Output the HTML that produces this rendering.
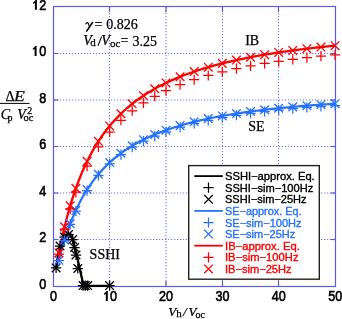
<!DOCTYPE html>
<html><head><meta charset="utf-8"><style>
html,body{margin:0;padding:0;background:#fff;}
body{width:342px;height:319px;overflow:hidden;position:relative;}
svg{position:absolute;left:0;top:0;will-change:transform;}
.tk{font-family:"Liberation Sans",sans-serif;font-size:14px;fill:#000;stroke:#000;stroke-width:0.6px;}
.lg{font-family:"Liberation Sans",sans-serif;font-size:10.6px;}
.sf{font-family:"Liberation Serif",serif;font-size:14px;fill:#000;stroke:#000;stroke-width:0.25px;}
.it{font-style:italic;}
</style></head><body>
<svg width="342" height="319" viewBox="0 0 342 319">
<line x1="109.50" y1="6.50" x2="109.50" y2="286.00" stroke="#7878f0" stroke-width="1.1" stroke-dasharray="1.3 1.7" stroke-dashoffset="-0.4"/>
<line x1="166.00" y1="6.50" x2="166.00" y2="286.00" stroke="#7878f0" stroke-width="1.1" stroke-dasharray="1.3 1.7" stroke-dashoffset="-0.4"/>
<line x1="222.50" y1="6.50" x2="222.50" y2="286.00" stroke="#7878f0" stroke-width="1.1" stroke-dasharray="1.3 1.7" stroke-dashoffset="-0.4"/>
<line x1="278.50" y1="6.50" x2="278.50" y2="286.00" stroke="#7878f0" stroke-width="1.1" stroke-dasharray="1.3 1.7" stroke-dashoffset="-0.4"/>
<line x1="53.50" y1="239.50" x2="335.50" y2="239.50" stroke="#7878f0" stroke-width="1.1" stroke-dasharray="1.3 1.7" stroke-dashoffset="-0.4"/>
<line x1="53.50" y1="193.00" x2="335.50" y2="193.00" stroke="#7878f0" stroke-width="1.1" stroke-dasharray="1.3 1.7" stroke-dashoffset="-0.4"/>
<line x1="53.50" y1="146.50" x2="335.50" y2="146.50" stroke="#7878f0" stroke-width="1.1" stroke-dasharray="1.3 1.7" stroke-dashoffset="-0.4"/>
<line x1="53.50" y1="100.00" x2="335.50" y2="100.00" stroke="#7878f0" stroke-width="1.1" stroke-dasharray="1.3 1.7" stroke-dashoffset="-0.4"/>
<line x1="53.50" y1="53.50" x2="335.50" y2="53.50" stroke="#7878f0" stroke-width="1.1" stroke-dasharray="1.3 1.7" stroke-dashoffset="-0.4"/>
<line x1="109.50" y1="286.50" x2="109.50" y2="281.00" stroke="#5a5ae6" stroke-width="1.2"/>
<line x1="109.50" y1="6.50" x2="109.50" y2="12.00" stroke="#5a5ae6" stroke-width="1.2"/>
<line x1="166.00" y1="286.50" x2="166.00" y2="281.00" stroke="#5a5ae6" stroke-width="1.2"/>
<line x1="166.00" y1="6.50" x2="166.00" y2="12.00" stroke="#5a5ae6" stroke-width="1.2"/>
<line x1="222.50" y1="286.50" x2="222.50" y2="281.00" stroke="#5a5ae6" stroke-width="1.2"/>
<line x1="222.50" y1="6.50" x2="222.50" y2="12.00" stroke="#5a5ae6" stroke-width="1.2"/>
<line x1="278.50" y1="286.50" x2="278.50" y2="281.00" stroke="#5a5ae6" stroke-width="1.2"/>
<line x1="278.50" y1="6.50" x2="278.50" y2="12.00" stroke="#5a5ae6" stroke-width="1.2"/>
<line x1="53.50" y1="239.50" x2="58.30" y2="239.50" stroke="#5a5ae6" stroke-width="1.2"/>
<line x1="335.50" y1="239.50" x2="330.70" y2="239.50" stroke="#5a5ae6" stroke-width="1.2"/>
<line x1="53.50" y1="193.00" x2="58.30" y2="193.00" stroke="#5a5ae6" stroke-width="1.2"/>
<line x1="335.50" y1="193.00" x2="330.70" y2="193.00" stroke="#5a5ae6" stroke-width="1.2"/>
<line x1="53.50" y1="146.50" x2="58.30" y2="146.50" stroke="#5a5ae6" stroke-width="1.2"/>
<line x1="335.50" y1="146.50" x2="330.70" y2="146.50" stroke="#5a5ae6" stroke-width="1.2"/>
<line x1="53.50" y1="100.00" x2="58.30" y2="100.00" stroke="#5a5ae6" stroke-width="1.2"/>
<line x1="335.50" y1="100.00" x2="330.70" y2="100.00" stroke="#5a5ae6" stroke-width="1.2"/>
<line x1="53.50" y1="53.50" x2="58.30" y2="53.50" stroke="#5a5ae6" stroke-width="1.2"/>
<line x1="335.50" y1="53.50" x2="330.70" y2="53.50" stroke="#5a5ae6" stroke-width="1.2"/>
<rect x="53.50" y="6.50" width="282.00" height="280.00" fill="none" stroke="#5a5ae6" stroke-width="1.2"/>
<polyline points="56.30,267.60 57.20,260.50 58.30,254.00 59.60,248.50 61.00,244.20 62.60,240.60 64.30,237.80 66.10,235.70 67.90,234.30 69.60,233.80 71.00,234.60 72.00,237.00 73.00,240.30 74.50,246.30 76.00,252.50 78.00,261.00 80.00,269.80 82.00,278.80 83.20,285.80 109.60,285.80" fill="none" stroke="#000000" stroke-width="2.3" stroke-linejoin="round"/>
<polyline points="59.50,258.06 60.88,252.80 62.25,247.84 63.63,243.14 65.01,238.68 66.39,234.45 67.77,230.43 69.14,226.60 70.52,222.95 71.90,219.47 73.28,216.15 74.65,212.98 76.03,209.94 77.41,207.03 78.79,204.24 80.16,201.56 81.54,198.99 82.92,196.52 84.30,194.15 85.68,191.86 87.05,189.66 88.43,187.54 89.81,185.50 91.19,183.53 92.56,181.62 93.94,179.79 95.32,178.01 96.70,176.29 98.08,174.63 99.45,173.02 100.83,171.46 102.21,169.95 103.59,168.48 104.96,167.06 106.34,165.68 107.72,164.35 109.10,163.05 110.48,161.79 111.85,160.56 113.23,159.37 114.61,158.21 115.99,157.08 117.36,155.98 118.74,154.92 120.12,153.88 121.50,152.86 122.88,151.88 124.25,150.91 125.63,149.98 127.01,149.06 128.39,148.17 129.76,147.30 131.14,146.45 132.52,145.62 133.90,144.81 135.28,144.01 136.65,143.24 138.03,142.48 139.41,141.75 140.79,141.02 142.16,140.32 143.54,139.63 144.92,138.95 146.30,138.29 147.67,137.64 149.05,137.01 150.43,136.39 151.81,135.78 153.19,135.18 154.56,134.60 155.94,134.03 157.32,133.47 158.70,132.92 160.07,132.38 161.45,131.86 162.83,131.34 164.21,130.83 165.59,130.34 166.96,129.85 168.34,129.37 169.72,128.90 171.10,128.44 172.47,127.99 173.85,127.54 175.23,127.11 176.61,126.68 177.99,126.26 179.36,125.84 180.74,125.44 182.12,125.04 183.50,124.65 184.87,124.26 186.25,123.88 187.63,123.51 189.01,123.14 190.39,122.78 191.76,122.43 193.14,122.08 194.52,121.74 195.90,121.41 197.27,121.07 198.65,120.75 200.03,120.43 201.41,120.11 202.79,119.80 204.16,119.50 205.54,119.20 206.92,118.90 208.30,118.61 209.67,118.33 211.05,118.04 212.43,117.77 213.81,117.49 215.19,117.22 216.56,116.96 217.94,116.70 219.32,116.44 220.70,116.19 222.07,115.94 223.45,115.69 224.83,115.45 226.21,115.21 227.58,114.98 228.96,114.75 230.34,114.52 231.72,114.29 233.10,114.07 234.47,113.85 235.85,113.64 237.23,113.42 238.61,113.21 239.98,113.01 241.36,112.80 242.74,112.60 244.12,112.40 245.50,112.21 246.87,112.02 248.25,111.83 249.63,111.64 251.01,111.45 252.38,111.27 253.76,111.09 255.14,110.91 256.52,110.74 257.90,110.57 259.27,110.40 260.65,110.23 262.03,110.06 263.41,109.90 264.78,109.74 266.16,109.58 267.54,109.42 268.92,109.27 270.30,109.11 271.67,108.96 273.05,108.81 274.43,108.66 275.81,108.52 277.18,108.38 278.56,108.23 279.94,108.09 281.32,107.96 282.70,107.82 284.07,107.68 285.45,107.55 286.83,107.42 288.21,107.29 289.58,107.16 290.96,107.04 292.34,106.91 293.72,106.79 295.10,106.67 296.47,106.55 297.85,106.43 299.23,106.31 300.61,106.19 301.98,106.08 303.36,105.97 304.74,105.85 306.12,105.74 307.49,105.64 308.87,105.53 310.25,105.42 311.63,105.32 313.01,105.21 314.38,105.11 315.76,105.01 317.14,104.91 318.52,104.81 319.89,104.71 321.27,104.62 322.65,104.52 324.03,104.43 325.41,104.33 326.78,104.24 328.16,104.15 329.54,104.06 330.92,103.97 332.29,103.89 333.67,103.80 335.05,103.71" fill="none" stroke="#2672ff" stroke-width="2.2" stroke-linejoin="round"/>
<polyline points="58.93,252.95 60.32,246.00 61.70,239.44 63.08,233.23 64.46,227.34 65.84,221.74 67.22,216.43 68.60,211.37 69.98,206.54 71.36,201.94 72.74,197.55 74.12,193.35 75.50,189.33 76.88,185.48 78.26,181.79 79.64,178.24 81.02,174.84 82.40,171.57 83.79,168.43 85.17,165.40 86.55,162.49 87.93,159.68 89.31,156.97 90.69,154.36 92.07,151.83 93.45,149.39 94.83,147.04 96.21,144.75 97.59,142.55 98.97,140.41 100.35,138.34 101.73,136.33 103.11,134.39 104.49,132.50 105.87,130.67 107.26,128.89 108.64,127.16 110.02,125.48 111.40,123.85 112.78,122.26 114.16,120.72 115.54,119.21 116.92,117.75 118.30,116.33 119.68,114.94 121.06,113.59 122.44,112.27 123.82,110.98 125.20,109.73 126.58,108.50 127.96,107.31 129.34,106.14 130.72,105.01 132.11,103.89 133.49,102.81 134.87,101.75 136.25,100.71 137.63,99.69 139.01,98.70 140.39,97.73 141.77,96.78 143.15,95.85 144.53,94.94 145.91,94.05 147.29,93.18 148.67,92.33 150.05,91.49 151.43,90.67 152.81,89.87 154.19,89.08 155.58,88.31 156.96,87.55 158.34,86.81 159.72,86.08 161.10,85.37 162.48,84.67 163.86,83.98 165.24,83.31 166.62,82.64 168.00,81.99 169.38,81.35 170.76,80.73 172.14,80.11 173.52,79.51 174.90,78.91 176.28,78.33 177.66,77.75 179.05,77.19 180.43,76.63 181.81,76.09 183.19,75.55 184.57,75.02 185.95,74.51 187.33,74.00 188.71,73.49 190.09,73.00 191.47,72.51 192.85,72.04 194.23,71.56 195.61,71.10 196.99,70.65 198.37,70.20 199.75,69.75 201.13,69.32 202.51,68.89 203.90,68.47 205.28,68.05 206.66,67.64 208.04,67.24 209.42,66.84 210.80,66.45 212.18,66.06 213.56,65.68 214.94,65.31 216.32,64.94 217.70,64.57 219.08,64.21 220.46,63.86 221.84,63.51 223.22,63.16 224.60,62.82 225.98,62.49 227.37,62.16 228.75,61.83 230.13,61.51 231.51,61.19 232.89,60.88 234.27,60.57 235.65,60.27 237.03,59.96 238.41,59.67 239.79,59.37 241.17,59.09 242.55,58.80 243.93,58.52 245.31,58.24 246.69,57.96 248.07,57.69 249.45,57.42 250.83,57.16 252.22,56.90 253.60,56.64 254.98,56.39 256.36,56.13 257.74,55.89 259.12,55.64 260.50,55.40 261.88,55.16 263.26,54.92 264.64,54.69 266.02,54.45 267.40,54.23 268.78,54.00 270.16,53.78 271.54,53.56 272.92,53.34 274.30,53.12 275.69,52.91 277.07,52.70 278.45,52.49 279.83,52.29 281.21,52.08 282.59,51.88 283.97,51.68 285.35,51.49 286.73,51.29 288.11,51.10 289.49,50.91 290.87,50.72 292.25,50.53 293.63,50.35 295.01,50.17 296.39,49.99 297.77,49.81 299.16,49.63 300.54,49.46 301.92,49.29 303.30,49.12 304.68,48.95 306.06,48.78 307.44,48.62 308.82,48.45 310.20,48.29 311.58,48.13 312.96,47.97 314.34,47.82 315.72,47.66 317.10,47.51 318.48,47.36 319.86,47.21 321.24,47.06 322.62,46.91 324.01,46.77 325.39,46.62 326.77,46.48 328.15,46.34 329.53,46.20 330.91,46.06 332.29,45.92 333.67,45.79 335.05,45.65" fill="none" stroke="#ff0000" stroke-width="2.3" stroke-linejoin="round"/>
<path d="M51.00 267.90H61.20M56.10 262.80V273.00" stroke="#000000" stroke-width="1.25" fill="none"/>
<path d="M51.80 263.60L60.40 272.20M51.80 272.20L60.40 263.60" stroke="#000000" stroke-width="1.30" fill="none"/>
<path d="M54.90 246.00H65.10M60.00 240.90V251.10" stroke="#000000" stroke-width="1.25" fill="none"/>
<path d="M55.70 241.70L64.30 250.30M55.70 250.30L64.30 241.70" stroke="#000000" stroke-width="1.30" fill="none"/>
<path d="M59.40 237.00H69.60M64.50 231.90V242.10" stroke="#000000" stroke-width="1.25" fill="none"/>
<path d="M60.20 232.70L68.80 241.30M60.20 241.30L68.80 232.70" stroke="#000000" stroke-width="1.30" fill="none"/>
<path d="M63.40 234.50H73.60M68.50 229.40V239.60" stroke="#000000" stroke-width="1.25" fill="none"/>
<path d="M64.20 230.20L72.80 238.80M64.20 238.80L72.80 230.20" stroke="#000000" stroke-width="1.30" fill="none"/>
<path d="M67.50 239.50H77.70M72.60 234.40V244.60" stroke="#000000" stroke-width="1.25" fill="none"/>
<path d="M68.30 235.20L76.90 243.80M68.30 243.80L76.90 235.20" stroke="#000000" stroke-width="1.30" fill="none"/>
<path d="M69.40 247.50H79.60M74.50 242.40V252.60" stroke="#000000" stroke-width="1.25" fill="none"/>
<path d="M70.20 243.20L78.80 251.80M70.20 251.80L78.80 243.20" stroke="#000000" stroke-width="1.30" fill="none"/>
<path d="M70.90 255.00H81.10M76.00 249.90V260.10" stroke="#000000" stroke-width="1.25" fill="none"/>
<path d="M71.70 250.70L80.30 259.30M71.70 259.30L80.30 250.70" stroke="#000000" stroke-width="1.30" fill="none"/>
<path d="M72.70 268.50H82.90M77.80 263.40V273.60" stroke="#000000" stroke-width="1.25" fill="none"/>
<path d="M73.50 264.20L82.10 272.80M73.50 272.80L82.10 264.20" stroke="#000000" stroke-width="1.30" fill="none"/>
<path d="M77.90 285.60H88.10M83.00 280.50V290.70" stroke="#000000" stroke-width="1.25" fill="none"/>
<path d="M78.70 281.30L87.30 289.90M78.70 289.90L87.30 281.30" stroke="#000000" stroke-width="1.30" fill="none"/>
<path d="M80.20 285.60H90.40M85.30 280.50V290.70" stroke="#000000" stroke-width="1.25" fill="none"/>
<path d="M81.00 281.30L89.60 289.90M81.00 289.90L89.60 281.30" stroke="#000000" stroke-width="1.30" fill="none"/>
<path d="M82.60 285.60H92.80M87.70 280.50V290.70" stroke="#000000" stroke-width="1.25" fill="none"/>
<path d="M83.40 281.30L92.00 289.90M83.40 289.90L92.00 281.30" stroke="#000000" stroke-width="1.30" fill="none"/>
<path d="M104.50 285.60H114.70M109.60 280.50V290.70" stroke="#000000" stroke-width="1.25" fill="none"/>
<path d="M105.30 281.30L113.90 289.90M105.30 289.90L113.90 281.30" stroke="#000000" stroke-width="1.30" fill="none"/>
<path d="M53.83 260.55H64.03M58.93 255.45V265.65" stroke="#2672ff" stroke-width="1.25" fill="none"/>
<path d="M54.63 255.99L63.23 264.59M54.63 264.59L63.23 255.99" stroke="#2672ff" stroke-width="1.30" fill="none"/>
<path d="M59.47 240.54H69.67M64.57 235.44V245.64" stroke="#2672ff" stroke-width="1.25" fill="none"/>
<path d="M60.27 235.78L68.87 244.38M60.27 244.38L68.87 235.78" stroke="#2672ff" stroke-width="1.30" fill="none"/>
<path d="M65.11 224.40H75.30M70.20 219.30V229.50" stroke="#2672ff" stroke-width="1.25" fill="none"/>
<path d="M65.91 219.47L74.50 228.07M65.91 228.07L74.50 219.47" stroke="#2672ff" stroke-width="1.30" fill="none"/>
<path d="M70.74 211.11H80.94M75.84 206.01V216.21" stroke="#2672ff" stroke-width="1.25" fill="none"/>
<path d="M71.54 206.05L80.14 214.65M71.54 214.65L80.14 206.05" stroke="#2672ff" stroke-width="1.30" fill="none"/>
<path d="M82.01 190.54H92.21M87.11 185.44V195.64" stroke="#2672ff" stroke-width="1.25" fill="none"/>
<path d="M82.81 185.28L91.41 193.88M82.81 193.88L91.41 185.28" stroke="#2672ff" stroke-width="1.30" fill="none"/>
<path d="M93.28 175.38H103.48M98.38 170.28V180.48" stroke="#2672ff" stroke-width="1.25" fill="none"/>
<path d="M94.08 169.97L102.68 178.57M94.08 178.57L102.68 169.97" stroke="#2672ff" stroke-width="1.30" fill="none"/>
<path d="M104.55 163.77H114.75M109.65 158.67V168.87" stroke="#2672ff" stroke-width="1.25" fill="none"/>
<path d="M105.35 158.24L113.95 166.84M105.35 166.84L113.95 158.24" stroke="#2672ff" stroke-width="1.30" fill="none"/>
<path d="M115.82 154.61H126.02M120.92 149.51V159.71" stroke="#2672ff" stroke-width="1.25" fill="none"/>
<path d="M116.62 148.98L125.22 157.58M116.62 157.58L125.22 148.98" stroke="#2672ff" stroke-width="1.30" fill="none"/>
<path d="M127.09 147.22H137.29M132.19 142.12V152.32" stroke="#2672ff" stroke-width="1.25" fill="none"/>
<path d="M127.89 141.51L136.49 150.11M127.89 150.11L136.49 141.51" stroke="#2672ff" stroke-width="1.30" fill="none"/>
<path d="M138.36 141.13H148.56M143.46 136.03V146.23" stroke="#2672ff" stroke-width="1.25" fill="none"/>
<path d="M139.16 135.37L147.76 143.97M139.16 143.97L147.76 135.37" stroke="#2672ff" stroke-width="1.30" fill="none"/>
<path d="M149.63 136.05H159.83M154.73 130.95V141.15" stroke="#2672ff" stroke-width="1.25" fill="none"/>
<path d="M150.43 130.23L159.03 138.83M150.43 138.83L159.03 130.23" stroke="#2672ff" stroke-width="1.30" fill="none"/>
<path d="M160.90 131.75H171.10M166.00 126.65V136.85" stroke="#2672ff" stroke-width="1.25" fill="none"/>
<path d="M161.70 125.89L170.30 134.49M161.70 134.49L170.30 125.89" stroke="#2672ff" stroke-width="1.30" fill="none"/>
<path d="M174.99 127.23H185.19M180.09 122.13V132.33" stroke="#2672ff" stroke-width="1.25" fill="none"/>
<path d="M175.79 121.33L184.39 129.93M175.79 129.93L184.39 121.33" stroke="#2672ff" stroke-width="1.30" fill="none"/>
<path d="M189.08 123.47H199.28M194.18 118.37V128.57" stroke="#2672ff" stroke-width="1.25" fill="none"/>
<path d="M189.88 117.53L198.48 126.13M189.88 126.13L198.48 117.53" stroke="#2672ff" stroke-width="1.30" fill="none"/>
<path d="M203.16 120.29H213.36M208.26 115.19V125.39" stroke="#2672ff" stroke-width="1.25" fill="none"/>
<path d="M203.96 114.32L212.56 122.92M203.96 122.92L212.56 114.32" stroke="#2672ff" stroke-width="1.30" fill="none"/>
<path d="M217.25 117.59H227.45M222.35 112.49V122.69" stroke="#2672ff" stroke-width="1.25" fill="none"/>
<path d="M218.05 111.59L226.65 120.19M218.05 120.19L226.65 111.59" stroke="#2672ff" stroke-width="1.30" fill="none"/>
<path d="M231.34 115.27H241.54M236.44 110.17V120.37" stroke="#2672ff" stroke-width="1.25" fill="none"/>
<path d="M232.14 109.24L240.74 117.84M232.14 117.84L240.74 109.24" stroke="#2672ff" stroke-width="1.30" fill="none"/>
<path d="M245.42 113.26H255.62M250.52 108.16V118.36" stroke="#2672ff" stroke-width="1.25" fill="none"/>
<path d="M246.22 107.22L254.82 115.82M246.22 115.82L254.82 107.22" stroke="#2672ff" stroke-width="1.30" fill="none"/>
<path d="M259.51 111.52H269.71M264.61 106.42V116.62" stroke="#2672ff" stroke-width="1.25" fill="none"/>
<path d="M260.31 105.46L268.91 114.06M260.31 114.06L268.91 105.46" stroke="#2672ff" stroke-width="1.30" fill="none"/>
<path d="M273.60 110.00H283.80M278.70 104.90V115.10" stroke="#2672ff" stroke-width="1.25" fill="none"/>
<path d="M274.40 103.92L283.00 112.52M274.40 112.52L283.00 103.92" stroke="#2672ff" stroke-width="1.30" fill="none"/>
<path d="M287.69 108.66H297.89M292.79 103.56V113.76" stroke="#2672ff" stroke-width="1.25" fill="none"/>
<path d="M288.49 102.57L297.09 111.17M288.49 111.17L297.09 102.57" stroke="#2672ff" stroke-width="1.30" fill="none"/>
<path d="M301.77 107.49H311.98M306.88 102.39V112.59" stroke="#2672ff" stroke-width="1.25" fill="none"/>
<path d="M302.57 101.38L311.18 109.98M302.57 109.98L311.18 101.38" stroke="#2672ff" stroke-width="1.30" fill="none"/>
<path d="M315.86 106.45H326.06M320.96 101.35V111.55" stroke="#2672ff" stroke-width="1.25" fill="none"/>
<path d="M316.66 100.34L325.26 108.94M316.66 108.94L325.26 100.34" stroke="#2672ff" stroke-width="1.30" fill="none"/>
<path d="M329.95 105.54H340.15M335.05 100.44V110.64" stroke="#2672ff" stroke-width="1.25" fill="none"/>
<path d="M330.75 99.41L339.35 108.01M330.75 108.01L339.35 99.41" stroke="#2672ff" stroke-width="1.30" fill="none"/>
<path d="M53.83 254.20H64.03M58.93 249.10V259.30" stroke="#ff0000" stroke-width="1.25" fill="none"/>
<path d="M54.63 248.65L63.23 257.25M54.63 257.25L63.23 248.65" stroke="#ff0000" stroke-width="1.30" fill="none"/>
<path d="M59.47 229.12H69.67M64.57 224.02V234.22" stroke="#ff0000" stroke-width="1.25" fill="none"/>
<path d="M60.27 222.57L68.87 231.17M60.27 231.17L68.87 222.57" stroke="#ff0000" stroke-width="1.30" fill="none"/>
<path d="M65.11 208.83H75.30M70.20 203.73V213.93" stroke="#ff0000" stroke-width="1.25" fill="none"/>
<path d="M65.91 201.48L74.50 210.08M65.91 210.08L74.50 201.48" stroke="#ff0000" stroke-width="1.30" fill="none"/>
<path d="M70.74 192.08H80.94M75.84 186.98V197.18" stroke="#ff0000" stroke-width="1.25" fill="none"/>
<path d="M71.54 184.07L80.14 192.67M71.54 192.67L80.14 184.07" stroke="#ff0000" stroke-width="1.30" fill="none"/>
<path d="M82.01 166.07H92.21M87.11 160.97V171.17" stroke="#ff0000" stroke-width="1.25" fill="none"/>
<path d="M82.81 157.03L91.41 165.63M82.81 165.63L91.41 157.03" stroke="#ff0000" stroke-width="1.30" fill="none"/>
<path d="M93.28 146.82H103.48M98.38 141.72V151.92" stroke="#ff0000" stroke-width="1.25" fill="none"/>
<path d="M94.08 137.02L102.68 145.62M94.08 145.62L102.68 137.02" stroke="#ff0000" stroke-width="1.30" fill="none"/>
<path d="M104.55 132.00H114.75M109.65 126.90V137.10" stroke="#ff0000" stroke-width="1.25" fill="none"/>
<path d="M105.35 121.62L113.95 130.22M105.35 130.22L113.95 121.62" stroke="#ff0000" stroke-width="1.30" fill="none"/>
<path d="M115.82 120.27H126.02M120.92 115.17V125.37" stroke="#ff0000" stroke-width="1.25" fill="none"/>
<path d="M116.62 109.42L125.22 118.02M116.62 118.02L125.22 109.42" stroke="#ff0000" stroke-width="1.30" fill="none"/>
<path d="M127.09 110.75H137.29M132.19 105.65V115.85" stroke="#ff0000" stroke-width="1.25" fill="none"/>
<path d="M127.89 99.53L136.49 108.13M127.89 108.13L136.49 99.53" stroke="#ff0000" stroke-width="1.30" fill="none"/>
<path d="M138.36 102.88H148.56M143.46 97.78V107.98" stroke="#ff0000" stroke-width="1.25" fill="none"/>
<path d="M139.16 91.35L147.76 99.95M139.16 99.95L147.76 91.35" stroke="#ff0000" stroke-width="1.30" fill="none"/>
<path d="M149.63 96.27H159.83M154.73 91.17V101.37" stroke="#ff0000" stroke-width="1.25" fill="none"/>
<path d="M150.43 84.48L159.03 93.08M150.43 93.08L159.03 84.48" stroke="#ff0000" stroke-width="1.30" fill="none"/>
<path d="M160.90 90.66H171.10M166.00 85.56V95.76" stroke="#ff0000" stroke-width="1.25" fill="none"/>
<path d="M161.70 78.64L170.30 87.24M161.70 87.24L170.30 78.64" stroke="#ff0000" stroke-width="1.30" fill="none"/>
<path d="M174.99 84.72H185.19M180.09 79.62V89.82" stroke="#ff0000" stroke-width="1.25" fill="none"/>
<path d="M175.79 72.47L184.39 81.07M175.79 81.07L184.39 72.47" stroke="#ff0000" stroke-width="1.30" fill="none"/>
<path d="M189.08 79.73H199.28M194.18 74.63V84.83" stroke="#ff0000" stroke-width="1.25" fill="none"/>
<path d="M189.88 67.28L198.48 75.88M189.88 75.88L198.48 67.28" stroke="#ff0000" stroke-width="1.30" fill="none"/>
<path d="M203.16 75.49H213.36M208.26 70.39V80.59" stroke="#ff0000" stroke-width="1.25" fill="none"/>
<path d="M203.96 62.87L212.56 71.47M203.96 71.47L212.56 62.87" stroke="#ff0000" stroke-width="1.30" fill="none"/>
<path d="M217.25 71.84H227.45M222.35 66.74V76.94" stroke="#ff0000" stroke-width="1.25" fill="none"/>
<path d="M218.05 59.08L226.65 67.68M218.05 67.68L226.65 59.08" stroke="#ff0000" stroke-width="1.30" fill="none"/>
<path d="M231.34 68.68H241.54M236.44 63.58V73.78" stroke="#ff0000" stroke-width="1.25" fill="none"/>
<path d="M232.14 55.79L240.74 64.39M232.14 64.39L240.74 55.79" stroke="#ff0000" stroke-width="1.30" fill="none"/>
<path d="M245.42 65.91H255.62M250.52 60.81V71.01" stroke="#ff0000" stroke-width="1.25" fill="none"/>
<path d="M246.22 52.92L254.82 61.52M246.22 61.52L254.82 52.92" stroke="#ff0000" stroke-width="1.30" fill="none"/>
<path d="M259.51 63.48H269.71M264.61 58.38V68.58" stroke="#ff0000" stroke-width="1.25" fill="none"/>
<path d="M260.31 50.39L268.91 58.99M260.31 58.99L268.91 50.39" stroke="#ff0000" stroke-width="1.30" fill="none"/>
<path d="M273.60 61.33H283.80M278.70 56.23V66.43" stroke="#ff0000" stroke-width="1.25" fill="none"/>
<path d="M274.40 48.15L283.00 56.75M274.40 56.75L283.00 48.15" stroke="#ff0000" stroke-width="1.30" fill="none"/>
<path d="M287.69 59.41H297.89M292.79 54.31V64.51" stroke="#ff0000" stroke-width="1.25" fill="none"/>
<path d="M288.49 46.16L297.09 54.76M288.49 54.76L297.09 46.16" stroke="#ff0000" stroke-width="1.30" fill="none"/>
<path d="M301.77 57.70H311.98M306.88 52.60V62.80" stroke="#ff0000" stroke-width="1.25" fill="none"/>
<path d="M302.57 44.38L311.18 52.98M302.57 52.98L311.18 44.38" stroke="#ff0000" stroke-width="1.30" fill="none"/>
<path d="M315.86 56.17H326.06M320.96 51.07V61.27" stroke="#ff0000" stroke-width="1.25" fill="none"/>
<path d="M316.66 42.79L325.26 51.39M316.66 51.39L325.26 42.79" stroke="#ff0000" stroke-width="1.30" fill="none"/>
<path d="M329.95 54.79H340.15M335.05 49.69V59.89" stroke="#ff0000" stroke-width="1.25" fill="none"/>
<path d="M330.75 41.35L339.35 49.95M330.75 49.95L339.35 41.35" stroke="#ff0000" stroke-width="1.30" fill="none"/>
<rect x="188.70" y="165.60" width="130.60" height="113.60" fill="#fff" stroke="#222" stroke-width="1.4"/>
<line x1="194.3" y1="176.10" x2="222.8" y2="176.10" stroke="#000000" stroke-width="1.8"/>
<text x="225.0" y="180.10" fill="#000000" stroke="#000000" stroke-width="0.35" class="lg" textLength="89.7" lengthAdjust="spacingAndGlyphs">SSHI−approx. Eq.</text>
<path d="M203.40 187.70H213.60M208.50 182.60V192.80" stroke="#000000" stroke-width="1.25" fill="none"/>
<text x="225.0" y="191.70" fill="#000000" stroke="#000000" stroke-width="0.35" class="lg" textLength="88.3" lengthAdjust="spacingAndGlyphs">SSHI−sim−100Hz</text>
<path d="M204.20 195.00L212.80 203.60M204.20 203.60L212.80 195.00" stroke="#000000" stroke-width="1.30" fill="none"/>
<text x="225.0" y="203.30" fill="#000000" stroke="#000000" stroke-width="0.35" class="lg" textLength="81.5" lengthAdjust="spacingAndGlyphs">SSHI−sim−25Hz</text>
<line x1="194.3" y1="210.90" x2="222.8" y2="210.90" stroke="#2672ff" stroke-width="1.8"/>
<text x="225.0" y="214.90" fill="#2672ff" stroke="#2672ff" stroke-width="0.35" class="lg" textLength="76.6" lengthAdjust="spacingAndGlyphs">SE−approx. Eq.</text>
<path d="M203.40 222.50H213.60M208.50 217.40V227.60" stroke="#2672ff" stroke-width="1.25" fill="none"/>
<text x="225.0" y="226.50" fill="#2672ff" stroke="#2672ff" stroke-width="0.35" class="lg" textLength="76.5" lengthAdjust="spacingAndGlyphs">SE−sim−100Hz</text>
<path d="M204.20 229.80L212.80 238.40M204.20 238.40L212.80 229.80" stroke="#2672ff" stroke-width="1.30" fill="none"/>
<text x="225.0" y="238.10" fill="#2672ff" stroke="#2672ff" stroke-width="0.35" class="lg" textLength="70.3" lengthAdjust="spacingAndGlyphs">SE−sim−25Hz</text>
<line x1="194.3" y1="245.70" x2="222.8" y2="245.70" stroke="#ff0000" stroke-width="1.8"/>
<text x="225.0" y="249.70" fill="#ff0000" stroke="#ff0000" stroke-width="0.35" class="lg" textLength="74.8" lengthAdjust="spacingAndGlyphs">IB−approx. Eq.</text>
<path d="M203.40 257.30H213.60M208.50 252.20V262.40" stroke="#ff0000" stroke-width="1.25" fill="none"/>
<text x="225.0" y="261.30" fill="#ff0000" stroke="#ff0000" stroke-width="0.35" class="lg" textLength="73.5" lengthAdjust="spacingAndGlyphs">IB−sim−100Hz</text>
<path d="M204.20 264.60L212.80 273.20M204.20 273.20L212.80 264.60" stroke="#ff0000" stroke-width="1.30" fill="none"/>
<text x="225.0" y="272.90" fill="#ff0000" stroke="#ff0000" stroke-width="0.35" class="lg" textLength="66.5" lengthAdjust="spacingAndGlyphs">IB−sim−25Hz</text>
<text transform="translate(46.3 288.90) scale(0.9 1)" text-anchor="end" class="tk">0</text>
<text transform="translate(46.3 242.40) scale(0.9 1)" text-anchor="end" class="tk">2</text>
<text transform="translate(46.3 195.90) scale(0.9 1)" text-anchor="end" class="tk">4</text>
<text transform="translate(46.3 149.40) scale(0.9 1)" text-anchor="end" class="tk">6</text>
<text transform="translate(46.3 102.90) scale(0.9 1)" text-anchor="end" class="tk">8</text>
<text transform="translate(46.3 56.40) scale(0.9 1)" text-anchor="end" class="tk">0</text>
<text transform="translate(46.3 9.90) scale(0.9 1)" text-anchor="end" class="tk">2</text>
<path d="M36.90 0.00L36.90 9.80L34.90 9.80L34.90 3.00L33.20 4.00L33.20 2.30L34.60 1.20L35.50 0.00Z" fill="#000"/>
<path d="M36.60 46.00L36.60 56.00L34.60 56.00L34.60 49.00L32.90 50.00L32.90 48.30L34.30 47.20L35.20 46.00Z" fill="#000"/>
<text transform="translate(53.40 301.2) scale(0.9 1)" text-anchor="middle" class="tk">0</text>
<text transform="translate(166.10 301.2) scale(0.9 1)" text-anchor="middle" class="tk">20</text>
<text transform="translate(222.45 301.2) scale(0.9 1)" text-anchor="middle" class="tk">30</text>
<text transform="translate(278.80 301.2) scale(0.9 1)" text-anchor="middle" class="tk">40</text>
<text transform="translate(335.15 301.2) scale(0.9 1)" text-anchor="middle" class="tk">50</text>
<text transform="translate(113.40 301.2) scale(0.9 1)" text-anchor="middle" class="tk">0</text>
<path d="M107.80 291.00L107.80 301.00L105.80 301.00L105.80 294.00L104.10 295.00L104.10 293.30L105.50 292.20L106.40 291.00Z" fill="#000"/>

<g class="sf">

<text x="94.6" y="28.8">=</text>
<text x="106.3" y="28.6">0.826</text>
<text x="83.2" y="45.0" class="it">V</text>
<text x="90.2" y="45.9" font-size="11">d</text>

<text x="101.3" y="45.0" class="it">V</text>
<text x="109.9" y="46.8" font-size="11">oc</text>
<text x="120.4" y="45.0">=</text>
<text x="132.4" y="45.6">3.25</text>
<text x="245.2" y="44.6">IB</text>
<text x="248.2" y="131">SE</text>
<text x="89.6" y="259.4">SSHI</text>
<text x="168.2" y="316.1" class="it" font-size="13">V</text>
<text x="176.2" y="317.1" font-size="11">h</text>
<text x="183.0" y="316.1" class="it" font-size="13">/</text>
<text x="188.4" y="316.1" class="it" font-size="13">V</text>
<text x="195.4" y="317.9" font-size="10">oc</text>
<text x="5.4" y="100.7">Δ</text>
<text x="14.0" y="100.6" class="it" font-size="14.5" textLength="10.8" lengthAdjust="spacingAndGlyphs">E</text>
<text x="0.8" y="118.6" class="it">C</text>
<text x="7.6" y="120.6" font-size="10">p</text>
<text x="17.2" y="118.6" class="it">V</text>
<text x="23.6" y="120.7" font-size="10.5">oc</text>
<text x="27.3" y="113.6" font-size="10">2</text>
</g>
<line x1="0" y1="103.4" x2="29.5" y2="103.4" stroke="#000" stroke-width="1"/>
<path d="M85.7 24.3C86.1 22.6 87.6 21.9 88.3 23.4L89.6 27.2" stroke="#000" stroke-width="1.1" fill="none"/>
<path d="M92.9 22.0L86.3 31.6" stroke="#000" stroke-width="1.5" fill="none"/>
<path d="M98.0 45.8L101.6 36.6" stroke="#000" stroke-width="1.05" fill="none"/>

</svg>
</body></html>
